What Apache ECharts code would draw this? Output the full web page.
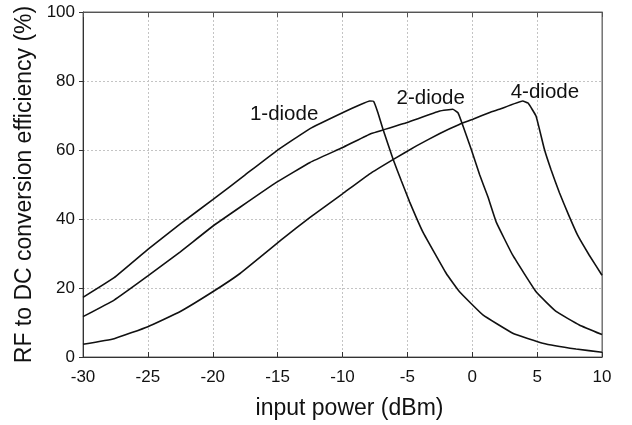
<!DOCTYPE html>
<html>
<head>
<meta charset="utf-8">
<script src="https://cdn.jsdelivr.net/npm/echarts@6/dist/echarts.min.js"></script>
<style>html,body{margin:0;padding:0;background:#fff}#c{width:632px;height:425px}</style>
</head>
<body>
<div id="c"></div>
<script>
// input power (dBm) and efficiency (%) for each curve
const power1 = [-30,-27.6,-25,-22.5,-20,-17.5,-15.1,-12.5,-10,-8.6,-7.9,-7.6,-7.27,-6.88,-6.1,-5.46,-4.82,-3.8,-2.0,-0.98,0.82,3.12,5.43,8.0,10];
const eff1   = [17.3,23.0,31.2,38.6,45.6,52.8,59.7,66.2,70.8,73.2,74.2,74.1,70.8,66.0,57.3,51,44.9,36.2,24.2,18.9,12.2,6.9,4.0,2.3,1.4];
const power2 = [-30,-27.6,-25,-22.5,-20,-17.9,-15.1,-12.5,-10,-7.9,-5.08,-2.5,-1.5,-1.1,-0.8,-0.08,0.57,1.2,1.85,3.12,4.92,6.46,8.25,10];
const eff2   = [11.7,16.5,23.5,30.5,37.9,43.4,50.6,56.4,60.7,64.6,67.9,71.3,71.8,70.8,67.9,60.2,52.8,46.5,39.1,29.5,18.9,13.2,9.3,6.5];
const power4 = [-30,-27.6,-25,-22.5,-20,-17.9,-14.6,-12.5,-10,-7.9,-5.98,-4.3,-2.5,-1,0.05,1.35,2.1,3.89,4.3,4.92,5.56,6.08,6.72,7.4,8.12,9.02,10];
const eff4   = [3.7,5.3,8.8,13.2,18.9,24.2,34.3,40.5,47.3,53.1,57.5,61.2,64.8,67.4,68.9,70.9,71.8,74.2,73.6,69.8,60.2,54.2,47.6,41.4,35.3,29.5,23.7];
const seriesNames = ['1-diode','2-diode','4-diode'];
const labelPos = [[-14.5,70.3],[-3.2,74.9],[5.6,76.7]];
const xTicks = {min:-30,max:10,interval:5};
const yTicks = {min:0,max:100,interval:20};
const xName = 'input power (dBm)';
const yName = 'RF to DC conversion efficiency (%)';

const font = 'Liberation Sans, Arial, Helvetica, sans-serif';
const zip = (a,b)=>a.map((v,i)=>[v,b[i]]);
const allData = [zip(power1,eff1), zip(power2,eff2), zip(power4,eff4)];

const chart = echarts.init(document.getElementById('c'), null, {renderer:'canvas'});
chart.setOption({
  animation:false,
  backgroundColor:'#fff',
  grid:{left:83,right:30,top:12,bottom:66,show:true,borderColor:'#666',borderWidth:1},
  xAxis:[{
    type:'value',min:xTicks.min,max:xTicks.max,interval:xTicks.interval,
    name:xName,nameLocation:'middle',nameGap:40,
    nameTextStyle:{fontFamily:font,fontSize:23,color:'#111',padding:[0,0,0,14]},
    axisLine:{show:true,onZero:false,lineStyle:{color:'#333',width:1}},
    axisTick:{show:true,inside:true,length:5,lineStyle:{color:'#333'}},
    axisLabel:{fontFamily:font,fontSize:17,color:'#111',margin:12},
    splitLine:{show:true,lineStyle:{color:'#c4c4c4',type:[2,2],width:1}}
  },{
    type:'value',position:'top',min:xTicks.min,max:xTicks.max,interval:xTicks.interval,
    axisLine:{show:true,onZero:false,lineStyle:{color:'#555'}},
    axisTick:{show:true,inside:true,length:5,lineStyle:{color:'#555'}},
    axisLabel:{show:false},splitLine:{show:false}
  }],
  yAxis:[{
    type:'value',min:yTicks.min,max:yTicks.max,interval:yTicks.interval,
    name:yName,nameLocation:'middle',nameGap:47,nameRotate:90,
    nameTextStyle:{fontFamily:font,fontSize:23,color:'#111'},
    axisLine:{show:true,onZero:false,lineStyle:{color:'#333',width:1}},
    axisTick:{show:true,inside:false,length:4,lineStyle:{color:'#333'}},
    axisLabel:{fontFamily:font,fontSize:17,color:'#111',margin:8},
    splitLine:{show:true,lineStyle:{color:'#c4c4c4',type:[2,2],width:1}}
  },{
    type:'value',position:'right',min:yTicks.min,max:yTicks.max,interval:yTicks.interval,
    axisLine:{show:true,onZero:false,lineStyle:{color:'#777'}},
    axisTick:{show:false},axisLabel:{show:false},splitLine:{show:false}
  }],
  series: allData.map((d,i)=>({
    type:'line',name:seriesNames[i],data:d,showSymbol:false,symbol:'none',smooth:0.1,
    lineStyle:{color:'#111',width:1.6},
    markPoint:{
      symbol:'circle',symbolSize:0,silent:true,
      label:{show:true,position:'inside',formatter:seriesNames[i],fontFamily:font,fontSize:20.5,color:'#111'},
      data:[{coord:labelPos[i]}]
    }
  }))
});
</script>
</body>
</html>
